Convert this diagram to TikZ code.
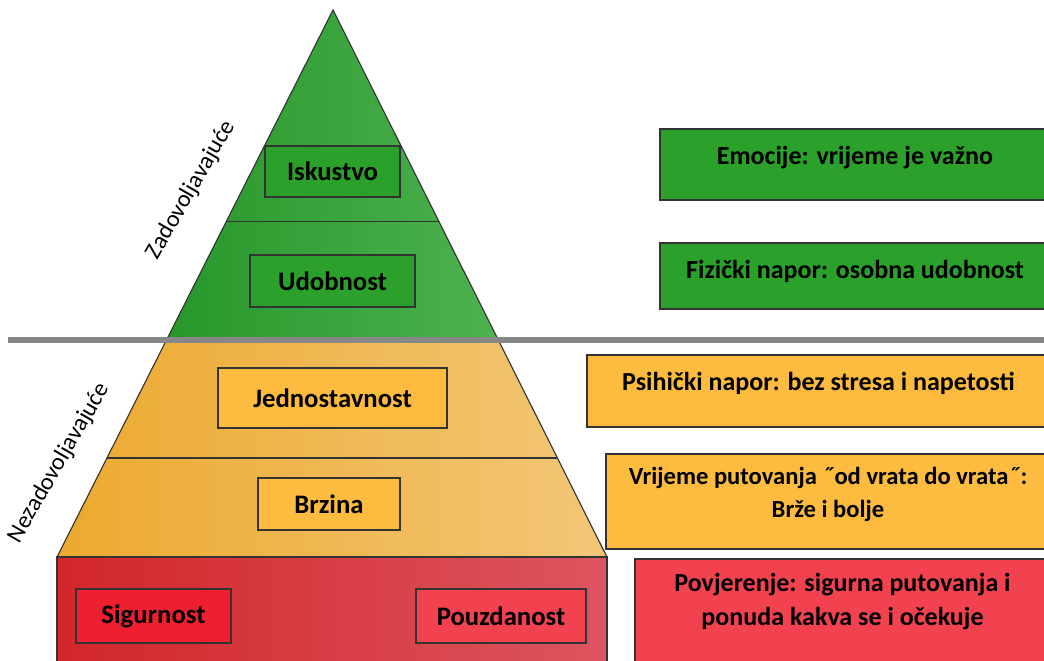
\documentclass[tikz,border=0pt]{standalone}
\usepackage{fontspec}
\setmainfont{Carlito}
\usetikzlibrary{calc}
\definecolor{grnL}{HTML}{27972A}
\definecolor{grnR}{HTML}{4DB24F}
\definecolor{grnBox}{HTML}{2BA02B}
\definecolor{orgL}{HTML}{EDA92F}
\definecolor{orgR}{HTML}{F2C777}
\definecolor{orgBox}{HTML}{FDBC3F}
\definecolor{redL}{HTML}{D22629}
\definecolor{redR}{HTML}{DC5560}
\definecolor{redBox}{HTML}{EE1F30}
\definecolor{redBoxB}{HTML}{F2424F}
\begin{document}
\begin{tikzpicture}[x=0.025cm,y=-0.025cm]
			\tikzset{lvl/.style={draw=black!80,thick,minimum height=1.3cm,font=\fontsize{19}{22}\selectfont\bfseries}}
			\tikzset{side/.style={draw=black!80,thick,align=center,font=\fontsize{18.5}{24}\selectfont\bfseries}}
			\tikzset{edge label/.style={font=\fontsize{17}{20}\selectfont,rotate=60}}
			\useasboundingbox (0,0) rectangle (1044,661);
			\clip (0,0) rectangle (1044,661);
			% pyramid
			\coordinate (top) at (333,10);
			\coordinate (bl) at (57,557);
			\coordinate (br) at (607,557);
			\path[left color=grnL,right color=grnR] (top) -- ($(top)!0.603!(bl)$) -- ($(top)!0.603!(br)$) -- cycle;
			\path[left color=orgL,right color=orgR] ($(top)!0.603!(bl)$) -- (bl) -- (br) -- ($(top)!0.603!(br)$) -- cycle;
			\draw[thick,black!80,left color=redL,right color=redR] (bl) rectangle (607,670);
			\draw[thick,black!80] (bl) -- (top) -- (br);
			\draw[thick,black!80] ($(top)!0.386!(bl)$) -- ($(top)!0.386!(br)$);
			\draw[thick,black!80] ($(top)!0.819!(bl)$) -- ($(top)!0.819!(br)$);
			\draw[line width=4.3pt,black!47] (8,340) -- (1050,340);
			% levels
			\node[lvl,fill=grnBox,minimum width=3.375cm,minimum height=1.275cm] (iskustvo) at (332.5,171.5) {Iskustvo};
			\node[lvl,fill=grnBox,minimum width=4.125cm] (udobnost) at (332.5,281) {Udobnost};
			\node[lvl,fill=orgBox,minimum width=5.725cm,minimum height=1.5cm] (jednostavnost) at (332.5,398) {Jednostavnost};
			\node[lvl,fill=orgBox,minimum width=3.55cm] (brzina) at (329,504) {Brzina};
			\node[lvl,fill=redBox,minimum width=3.875cm,minimum height=1.35cm] (sigurnost) at (153.5,616) {Sigurnost};
			\node[lvl,fill=redBoxB,minimum width=4.25cm,minimum height=1.35cm] (pouzdanost) at (501,616) {Pouzdanost};
			\node[edge label] (zad) at (191,190) {Zadovoljavajuće};
			\node[edge label] (nezad) at (59,463) {Nezadovoljavajuće};
			% descriptions
			\node[side,fill=grnBox,minimum width=9.75cm,minimum height=1.775cm,text depth=0.45cm] (emocije) at (855,164.5) {Emocije: vrijeme je važno};
			\node[side,fill=grnBox,minimum width=9.75cm,minimum height=1.65cm,text depth=0.35cm] (fizicki) at (855,276) {Fizički napor: osobna udobnost};
			\node[side,fill=orgBox,minimum width=11.575cm,minimum height=1.8cm,text depth=0.5cm] (psihicki) at (818.5,391) {Psihički napor: bez stresa i napetosti};
			\node[side,fill=orgBox,minimum width=11.1cm,minimum height=2.375cm,font=\fontsize{17.5}{23}\selectfont\bfseries,text depth=0.45cm] (vrijeme) at (828,501.5) {Vrijeme putovanja ˝od vrata do vrata˝:\\Brže i bolje};
			\node[side,fill=redBoxB,minimum width=10.375cm,minimum height=2.775cm,text depth=0.75cm] (povjerenje) at (842.5,614.5) {Povjerenje: sigurna putovanja i\\ponuda kakva se i očekuje};
\end{tikzpicture}
\end{document}
